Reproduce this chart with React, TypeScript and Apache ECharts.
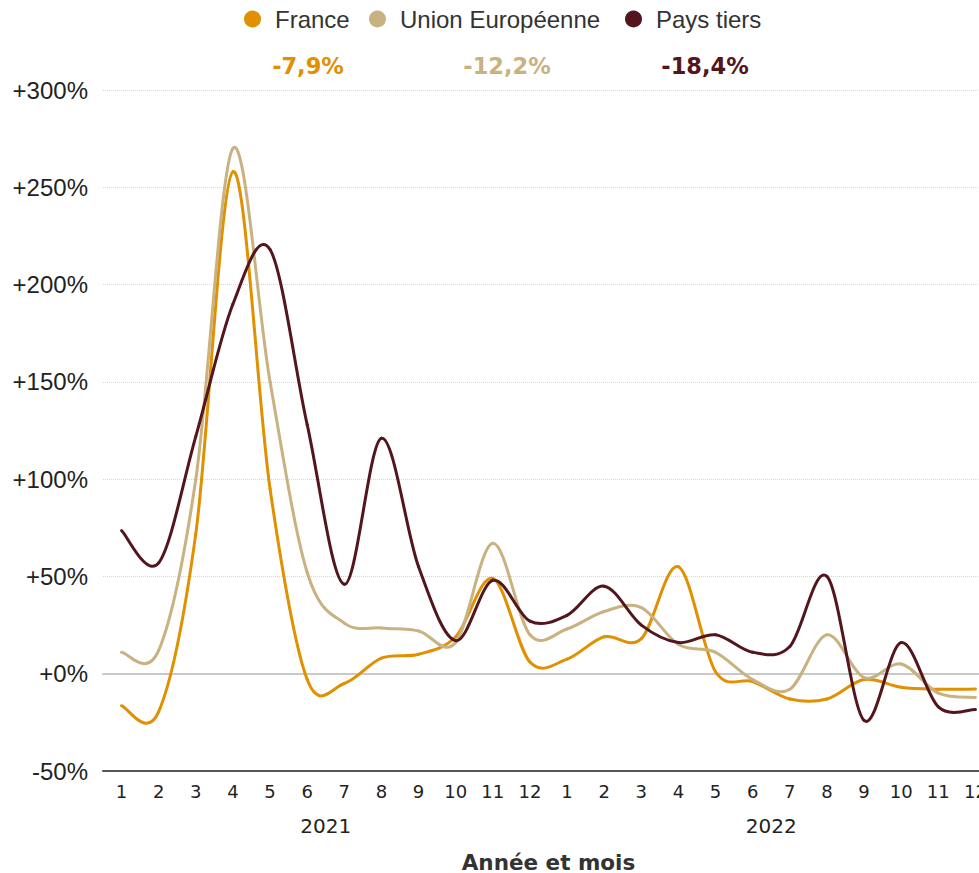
import React, { useEffect, useRef } from "react";
import * as echarts from "echarts";

const months = ["1","2","3","4","5","6","7","8","9","10","11","12","1","2","3","4","5","6","7","8","9","10","11","12"];
const years = ["2021", "2022"];
const seriesNames = ["France", "Union Européenne", "Pays tiers"];
const colors = ["#E09000", "#C9B281", "#53161C"];
const france = [-16.5, -19.5, 72, 258, 95, -3, -5, 8, 10, 19, 49, 6, 7.5, 19, 18, 55, 1, -4, -13, -13, -3, -7, -8, -7.9];
const ue = [11, 12, 100, 270, 150, 52, 26, 23.5, 22, 16, 67, 20, 23, 32, 34, 15, 11, -3, -8, 20, -2, 5, -10, -12.2];
const paysTiers = [73.5, 57, 122, 190, 218, 128, 46, 121, 55, 17, 48, 27, 30, 45, 25, 16, 20, 11, 14, 50, -24, 16, -17, -18.4];
const totals = ["-7,9%", "-12,2%", "-18,4%"];
const totalCenters = [308, 507, 705];
const legendLefts = [244, 369, 625];

function catmullRomSeries(name: string, values: number[], color: string, z: number) {
  const n = values.length;
  const clamp = (k: number) => Math.max(0, Math.min(n - 1, k));
  return {
    name,
    type: "custom",
    xAxisIndex: 1,
    z,
    data: values.map((v, i) => [i, v]),
    encode: { x: 0, y: 1 },
    itemStyle: { color },
    renderItem: (params: any, api: any) => {
      const i = params.dataIndex;
      if (i >= n - 1) return null;
      const p = (k: number) => api.coord([clamp(k), values[clamp(k)]]);
      const p0 = p(i - 1);
      const p1 = p(i);
      const p2 = p(i + 1);
      const p3 = p(i + 2);
      return {
        type: "bezierCurve",
        shape: {
          x1: p1[0],
          y1: p1[1],
          x2: p2[0],
          y2: p2[1],
          cpx1: p1[0] + (p2[0] - p0[0]) / 6,
          cpy1: p1[1] + (p2[1] - p0[1]) / 6,
          cpx2: p2[0] - (p3[0] - p1[0]) / 6,
          cpy2: p2[1] - (p3[1] - p1[1]) / 6,
        },
        style: { stroke: color, lineWidth: 3, fill: "none", lineCap: "round" },
      };
    },
  };
}

export default function App() {
  const ref = useRef<HTMLDivElement>(null);
  useEffect(() => {
    if (!ref.current) return;
    const chart = echarts.init(ref.current, null, { renderer: "svg" });
    const data = [france, ue, paysTiers];
    chart.setOption({
      animation: false,
      color: colors,
      legend: seriesNames.map((name, i) => ({
        data: [name],
        left: legendLefts[i],
        top: 7,
        padding: 0,
        icon: "circle",
        itemWidth: 17,
        itemHeight: 17,
        selectedMode: false,
        textStyle: { fontSize: 24, color: "#333", fontFamily: "Liberation Sans", padding: [0, 0, 0, 9] },
      })),
      graphic: totals.map((t, i) => ({
        type: "text",
        x: totalCenters[i],
        y: 66,
        style: {
          text: t,
          fill: colors[i],
          font: 'bold 22.5px "DejaVu Sans"',
          textAlign: "center",
          textVerticalAlign: "middle",
        },
      })),
      grid: { left: 103, right: 0, top: 90, bottom: 102, containLabel: false, outerBoundsMode: "none" },
      xAxis: [
        {
          type: "category",
          data: months,
          position: "bottom",
          boundaryGap: true,
          axisLine: { onZero: true, lineStyle: { color: "#c8c8c8", width: 2 } },
          axisTick: { show: false },
          axisLabel: { show: false },
          splitLine: { show: false },
        },
        {
          type: "category",
          data: months,
          position: "bottom",
          boundaryGap: true,
          axisLine: { onZero: false, lineStyle: { color: "#555", width: 2 } },
          axisTick: { show: false },
          axisLabel: { interval: 0, fontSize: 18, fontFamily: "DejaVu Sans", color: "#222", margin: 11 },
          splitLine: { show: false },
        },
        {
          type: "category",
          data: years,
          position: "bottom",
          offset: 36,
          boundaryGap: true,
          axisLine: { onZero: false, show: false },
          axisTick: { show: false },
          axisLabel: { interval: 0, fontSize: 20, fontFamily: "DejaVu Sans", color: "#222", margin: 9 },
          splitLine: { show: false },
          name: "Année et mois",
          nameLocation: "middle",
          nameGap: 44,
          nameTextStyle: { fontWeight: "bold", fontSize: 21.5, fontFamily: "DejaVu Sans", color: "#333" },
        },
      ],
      yAxis: {
        type: "value",
        min: -50,
        max: 300,
        interval: 50,
        axisLine: { show: false },
        axisTick: { show: false },
        axisLabel: {
          fontSize: 24,
          fontFamily: "Liberation Sans",
          color: "#222",
          margin: 15,
          formatter: (v: number) => (v >= 0 ? "+" + v + "%" : v + "%"),
        },
        splitLine: { lineStyle: { type: "dotted", color: "#d6d6d6", width: 1 } },
      },
      series: seriesNames.map((name, i) => catmullRomSeries(name, data[i], colors[i], 2 + i)),
    });
    return () => chart.dispose();
  }, []);
  return (
    <div style={{ position: "fixed", left: 0, top: 0, width: 979, height: 873, overflow: "hidden", background: "#fff" }}>
      <div ref={ref} style={{ position: "absolute", left: 0, top: 0, width: 994, height: 873 }} />
    </div>
  );
}
